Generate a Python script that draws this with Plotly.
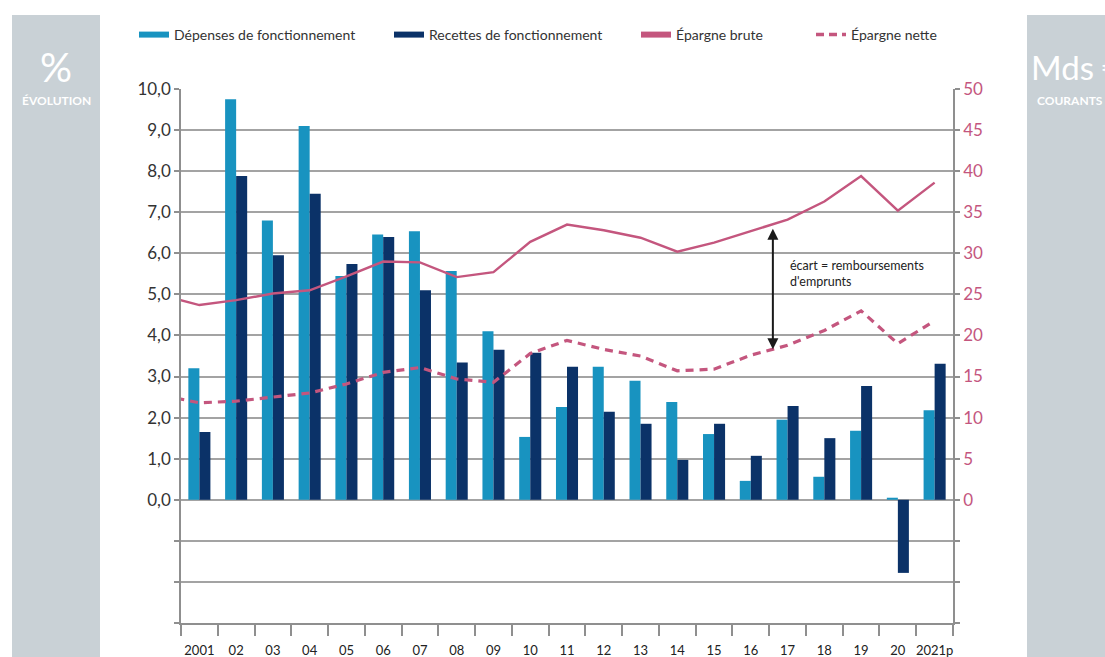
import plotly.graph_objects as go

# ---------------- data ----------------
years = list(range(2001, 2022))
year_labels = ["2001", "02", "03", "04", "05", "06", "07", "08", "09", "10",
               "11", "12", "13", "14", "15", "16", "17", "18", "19", "20", "2021p"]
depenses = [3.20, 9.75, 6.80, 9.10, 5.45, 6.46, 6.54, 5.57, 4.10, 1.53, 2.26,
            3.24, 2.90, 2.38, 1.60, 0.46, 1.95, 0.56, 1.68, 0.05, 2.18]
recettes = [1.65, 7.88, 5.95, 7.45, 5.74, 6.40, 5.10, 3.34, 3.65, 3.58, 3.24,
            2.14, 1.85, 0.97, 1.85, 1.07, 2.28, 1.50, 2.77, -1.78, 3.31]
line_years = list(range(2000, 2022))
epargne_brute = [24.9, 23.7, 24.3, 25.1, 25.5, 27.2, 29.0, 28.9, 27.1, 27.7, 31.4,
                 33.5, 32.8, 31.9, 30.2, 31.3, 32.7, 34.1, 36.3, 39.4, 35.2, 38.6]
epargne_nette = [12.7, 11.8, 12.0, 12.5, 13.0, 14.1, 15.5, 16.1, 14.7, 14.3, 17.8,
                 19.4, 18.3, 17.5, 15.7, 15.9, 17.6, 18.8, 20.6, 23.0, 19.0, 21.8]
left_ticks = list(range(-3, 11))
left_ticktext = ["" if v < 0 else f"{v},0" for v in left_ticks]
right_ticks = list(range(-15, 55, 5))
right_ticktext = ["" if v < 0 else str(v) for v in right_ticks]

# ---------------- style ----------------
C_DEP = "#1893c0"
C_REC = "#0b3268"
C_EP = "#c4567e"
GRID = "#a3a3a3"
AXIS = "#8f8f8f"
PANEL = "#c9d1d6"
FONT = "Lato"

W, H = 1105, 657
L, R, T, B = 181, 152, 89, 34
PW, PH = W - L - R, H - T - B


def px_x(px):
    return (px - L) / PW


def px_y(py):
    return (H - B - py) / PH


fig = go.Figure()

fig.add_trace(go.Bar(x=years, y=depenses, name="Dépenses de fonctionnement",
                     marker=dict(color=C_DEP, line=dict(width=0)), showlegend=False))
fig.add_trace(go.Bar(x=years, y=recettes, name="Recettes de fonctionnement",
                     marker=dict(color=C_REC, line=dict(width=0)), showlegend=False))
fig.add_trace(go.Scatter(x=line_years, y=epargne_brute, name="Épargne brute", yaxis="y2",
                         mode="lines", line=dict(color=C_EP, width=2.4), showlegend=False))
fig.add_trace(go.Scatter(x=line_years, y=epargne_nette, name="Épargne nette", yaxis="y2",
                         mode="lines", line=dict(color=C_EP, width=3.2, dash="8px,6px"),
                         showlegend=False))

# legend entries (one legend each, to place them like the original)
legend_items = [
    ("Dépenses de fonctionnement", C_DEP, None, 6, "legend"),
    ("Recettes de fonctionnement", C_REC, None, 6, "legend2"),
    ("Épargne brute", C_EP, None, 6, "legend3"),
    ("Épargne nette", C_EP, "8px,5px", 3.5, "legend4"),
]
for name, col, dash, wdt, lg in legend_items:
    fig.add_trace(go.Scatter(x=[None], y=[None], mode="lines", name=name, legend=lg,
                             line=dict(color=col, width=wdt, dash=dash), yaxis="y2"))

leg_common = dict(orientation="h", yanchor="middle", xanchor="left",
                  bgcolor="rgba(0,0,0,0)", font=dict(family=FONT, size=14, color="#333333"),
                  itemwidth=30)
leg_y = px_y(35)
fig.update_layout(
    legend=dict(x=px_x(134), y=leg_y, **leg_common),
    legend2=dict(x=px_x(389), y=leg_y, **leg_common),
    legend3=dict(x=px_x(636), y=leg_y, **leg_common),
    legend4=dict(x=px_x(811), y=leg_y, **leg_common),
)

fig.update_layout(
    width=W, height=H,
    margin=dict(l=L, r=R, t=T, b=B, autoexpand=False),
    paper_bgcolor="white", plot_bgcolor="white",
    barmode="group", bargap=0.4, bargroupgap=0,
    font=dict(family=FONT),
    xaxis=dict(
        range=[2000.5, 2021.5], tickmode="array", tickvals=years, ticktext=year_labels,
        ticks="outside", ticklen=14, tickcolor="rgba(0,0,0,0)", automargin=False,
        tickfont=dict(family=FONT, size=13, color="#222222"),
        showgrid=False, zeroline=False,
        showline=True, linecolor=AXIS, linewidth=2,
        minor=dict(tickmode="array", tickvals=[y - 0.5 for y in years] + [2021.5],
                   ticks="outside", ticklen=11, tickcolor=AXIS, tickwidth=1.5, showgrid=False),
    ),
    yaxis=dict(
        range=[-3, 10], tickmode="array", tickvals=left_ticks, ticktext=left_ticktext,
        ticks="outside", ticklen=5, tickcolor=AXIS, tickwidth=1.5, automargin=False,
        tickfont=dict(family=FONT, size=17, color="#333333"),
        showgrid=True, gridcolor=GRID, gridwidth=1.5, zeroline=False,
        showline=True, linecolor=AXIS, linewidth=1.5,
    ),
    yaxis2=dict(
        range=[-15, 50], overlaying="y", side="right", tickmode="array",
        tickvals=right_ticks, ticktext=right_ticktext, automargin=False,
        ticks="outside", ticklen=5, tickcolor=AXIS, tickwidth=1.5,
        tickfont=dict(family=FONT, size=17, color=C_EP),
        showgrid=False, zeroline=False,
        showline=True, linecolor=AXIS, linewidth=1.5,
    ),
)

# side panels
fig.add_shape(type="rect", xref="paper", yref="paper", x0=px_x(12), x1=px_x(100),
              y0=px_y(660), y1=px_y(15), fillcolor=PANEL, line=dict(width=0), layer="below")
fig.add_shape(type="rect", xref="paper", yref="paper", x0=px_x(1027), x1=px_x(1110),
              y0=px_y(660), y1=px_y(15), fillcolor=PANEL, line=dict(width=0), layer="below")
fig.add_annotation(xref="paper", yref="paper", x=px_x(56), y=px_y(67), text="%",
                   xanchor="center", yanchor="middle",
                   showarrow=False, font=dict(family=FONT, size=40, color="white"))
fig.add_annotation(xref="paper", yref="paper", x=px_x(56), y=px_y(100), text="<b>ÉVOLUTION</b>",
                   xanchor="center", yanchor="middle",
                   showarrow=False, font=dict(family=FONT, size=12, color="white"))
fig.add_annotation(xref="paper", yref="paper", x=px_x(1029), y=px_y(67), text="Mds €",
                   xanchor="left", yanchor="middle",
                   showarrow=False, font=dict(family=FONT, size=33, color="white"))
fig.add_annotation(xref="paper", yref="paper", x=px_x(1035), y=px_y(100), text="<b>COURANTS</b>",
                   xanchor="left", yanchor="middle",
                   showarrow=False, font=dict(family=FONT, size=12, color="white"))

# gap arrow and note
arrow_x = 2016.6
fig.add_annotation(x=arrow_x, y=6.6, ax=arrow_x, ay=3.63, xref="x", yref="y",
                   axref="x", ayref="y", showarrow=True, arrowhead=2, arrowside="end+start",
                   arrowsize=1.1, arrowwidth=2, arrowcolor="#1a1a1a", text="")
fig.add_annotation(x=2017.0, y=5.5, xref="x", yref="y", xanchor="left", yanchor="middle",
                   align="left",
                   text="écart = remboursements<br>d'emprunts", showarrow=False,
                   font=dict(family=FONT, size=12.5, color="#222222"))

fig.write_html("out.html", config={"displayModeBar": False},
               post_script="document.body.style.margin='0px';document.body.style.overflow='hidden';")
